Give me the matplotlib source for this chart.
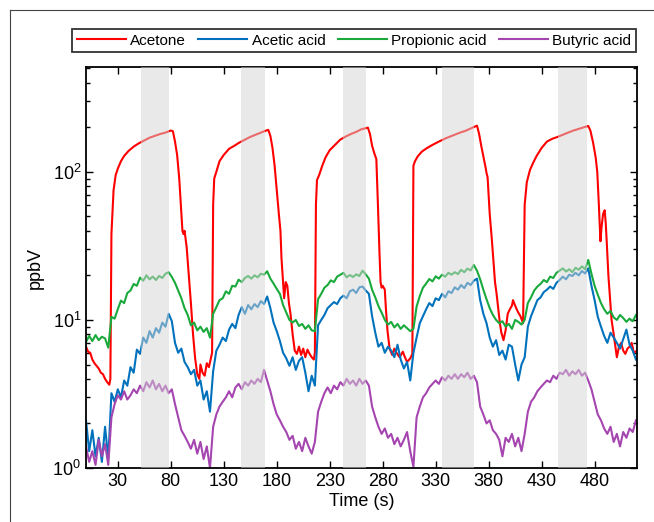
import numpy as np
import matplotlib
matplotlib.use("Agg")
import matplotlib.pyplot as plt
from matplotlib.lines import Line2D
from matplotlib.ticker import LogLocator, NullFormatter

plt.rcParams['font.family'] = 'Liberation Sans'
plt.rcParams['mathtext.fontset'] = 'custom'
plt.rcParams['mathtext.rm'] = 'Liberation Sans'
plt.rcParams['mathtext.it'] = 'Liberation Sans:italic'

# acetone: smooth, sharp steps -> own time axis (s)
acetone_t = [0, 2, 4, 6, 8, 10, 12, 14, 16, 18, 20, 22, 23, 24, 26, 28, 30, 33, 36, 40,
             45, 50, 55, 60, 65, 70, 75, 80, 82, 84, 86, 88, 89.5, 91, 92, 93, 95, 97, 99, 101,
             103, 105, 107, 108, 110, 112, 114, 116, 118, 119, 120, 121, 123, 126, 130, 135, 140, 145, 150, 155,
             160, 165, 170, 172, 174, 176, 178, 180, 182, 183.5, 184.5, 186, 187, 188.5, 190, 191.5, 193, 195, 197, 199,
             201, 203, 205, 207, 209, 211, 213, 215, 216, 217, 218, 220, 223, 226, 230, 235, 240, 245, 250, 255,
             260, 264, 266, 268, 270, 272, 274, 275.5, 277, 278, 279, 280, 282, 283, 284.5, 286.5, 289, 291, 293, 296,
             299, 301, 303, 306, 308, 309, 310.5, 313, 317, 322, 327, 333, 340, 347, 353, 358, 363, 368, 369, 371,
             373, 375, 377, 378, 379, 380, 381, 383, 384.5, 386, 387.5, 389, 390.6, 392, 394, 396, 398, 400, 402, 403,
             404, 406, 408, 410, 412.5, 414, 416, 419, 422, 425, 430, 435, 440, 445, 450, 455, 460, 466, 470, 474,
             476, 478.6, 481, 482.5, 484, 485.5, 486.5, 488, 489.5, 490.5, 491.5, 493, 494.5, 496, 498, 500, 501, 503, 505, 507,
             509, 511, 513, 515, 517, 520]
acetone = [6.6, 6.1, 6.0, 5.4, 5.1, 4.9, 4.7, 4.4, 4.3, 4.0, 3.8, 3.65, 4.0, 38, 75, 95, 105, 118, 128, 138,
           148, 156, 163, 170, 175, 180, 184, 190, 188, 160, 130, 90, 60, 40, 38, 40, 31, 20, 13, 8,
           5.5, 4.3, 4.0, 5.0, 4.4, 4.2, 5.1, 4.8, 5.6, 6.0, 60, 90, 100, 118, 130, 143, 150, 158, 165, 172,
           178, 184, 190, 192, 175, 145, 110, 75, 52, 40, 26, 18, 14, 18, 17, 13, 11, 8, 6.2, 5.9,
           6.6, 5.8, 6.4, 5.6, 6.3, 5.9, 5.6, 5.4, 6.0, 60, 88, 95, 110, 125, 140, 152, 165, 173, 180, 186,
           194, 197, 199, 180, 150, 134, 122, 60, 28, 18, 16.5, 17, 16, 12, 8.5, 6.4, 5.8, 6.4, 6.0, 5.6,
           6.1, 5.6, 5.2, 5.5, 5.9, 110, 118, 127, 137, 145, 152, 160, 169, 177, 184, 189, 196, 203, 205, 180,
           150, 127, 108, 98, 92, 70, 52, 35, 25, 18, 15, 12, 9.5, 8.2, 7.3, 8.5, 11, 11.8, 12.5, 13.6,
           13, 12, 11.2, 10.6, 9.5, 60, 85, 103, 115, 127, 145, 160, 167, 172, 178, 184, 190, 196, 200, 204,
           190, 157, 125, 100, 60, 34, 42, 52, 55, 45, 33, 20, 14, 10, 8, 6.3, 5.6, 6.6, 7.0, 6.2,
           5.9, 6.4, 6.6, 7.0, 6.0, 6.2]

# acids: one reading every 3 s from t = 0
acetic = [2.1, 1.3, 1.8, 1.2, 1.6, 1.1, 1.9, 1.15, 3.2, 2.8, 3.4, 3.0, 3.9, 3.6, 4.8, 4.4, 6.3, 5.9, 7.6, 7.0,
          8.4, 7.6, 8.8, 8.2, 9.6, 9.0, 11.0, 9.8, 7.0, 6.0, 6.4, 5.2, 4.8, 4.3, 4.6, 3.6, 3.9, 2.9, 3.3, 2.4,
          4.5, 6.2, 6.8, 7.6, 7.2, 8.6, 9.4, 8.8, 10.8, 12.2, 11.0, 12.6, 11.8, 12.8, 12.2, 13.4, 12.8, 14.4, 12.0, 9.6,
          8.4, 7.2, 6.0, 5.5, 4.9, 5.6, 4.6, 5.3, 5.6, 4.4, 3.3, 4.2, 3.6, 9.2, 10.0, 10.8, 12.0, 12.6, 13.2, 12.8,
          14.0, 14.6, 14.0, 15.6, 16.0, 15.2, 16.6, 16.8, 15.8, 15.0, 10.6, 8.2, 6.6, 7.0, 6.0, 6.6, 6.2, 5.6, 6.8, 5.4,
          4.7, 5.2, 3.9, 6.0, 7.6, 9.5, 10.6, 11.8, 13.0, 12.4, 14.0, 13.6, 15.0, 14.2, 15.6, 15.2, 16.6, 16.0, 17.2, 16.4,
          17.8, 17.2, 18.4, 19.0, 13.6, 11.0, 9.5, 7.6, 6.6, 7.3, 5.8, 6.2, 5.4, 6.8, 6.6, 5.0, 3.9, 5.0, 5.6, 9.0,
          10.6, 12.0, 13.6, 14.2, 15.4, 16.0, 16.8, 16.2, 17.8, 18.6, 19.6, 18.8, 20.2, 19.8, 20.8, 20.0, 21.4, 20.6, 22.3, 17.0,
          13.6, 10.5, 9.0, 7.8, 7.0, 8.2, 7.6, 7.0, 6.4, 7.4, 8.6, 6.8, 6.2, 5.4]
propionic = [7.1, 7.8, 7.2, 7.9, 7.3, 7.7, 7.5, 6.5, 10.5, 10.2, 11.8, 13.5, 13.0, 15.2, 15.8, 17.5, 17.0, 19.3, 18.4, 20.0,
             18.8, 19.6, 18.6, 19.8, 19.2, 20.5, 21.0, 19.5, 17.8, 15.8, 14.0, 12.0, 10.8, 9.2, 9.6, 8.5, 9.0, 8.3, 8.8, 7.6,
             11.0, 12.2, 13.6, 14.0, 15.6, 15.0, 17.0, 16.8, 18.7, 18.0, 19.2, 19.8, 19.0, 20.0, 19.4, 20.5, 20.2, 21.3, 19.0, 17.6,
             16.2, 15.0, 12.6, 11.2, 10.0, 9.6, 10.0, 9.1, 9.4, 8.7, 9.2, 8.5, 8.4, 13.8, 15.0, 16.5, 17.2, 18.5, 18.0, 19.6,
             20.2, 20.8, 19.4, 20.1, 19.5, 20.3, 19.8, 21.5, 20.3, 19.0, 16.0, 14.2, 12.4, 11.2, 10.0, 9.3, 9.7, 8.9, 9.4, 8.7,
             9.2, 8.8, 8.4, 8.7, 12.3, 14.5, 16.5, 17.6, 18.9, 18.2, 19.7, 19.0, 20.2, 19.6, 20.8, 20.2, 21.0, 20.4, 21.8, 21.0,
             22.2, 21.6, 23.5, 21.5, 18.8, 16.0, 13.8, 12.0, 10.8, 10.0, 9.5, 9.8, 9.0, 9.4, 8.7, 10.0, 9.7, 9.3, 10.0, 13.0,
             14.2, 15.8, 16.8, 17.5, 18.6, 18.0, 19.6, 19.2, 20.8, 21.5, 22.3, 21.2, 22.0, 21.0, 22.5, 21.8, 23.0, 22.0, 25.4, 20.5,
             17.0, 14.8, 13.0, 11.8, 11.0, 11.5, 10.4, 10.0, 10.8, 10.3, 9.7, 10.2, 9.8, 10.8]
butyric = [1.4, 1.1, 1.3, 1.05, 1.55, 1.2, 1.45, 1.05, 2.2, 2.7, 3.1, 2.9, 3.3, 2.9, 3.1, 3.4, 3.2, 3.6, 3.3, 3.8,
           3.5, 3.9, 3.4, 3.7, 3.3, 3.6, 3.2, 3.4, 2.7, 2.2, 1.8, 1.65, 1.5, 1.35, 1.55, 1.25, 1.5, 1.15, 1.4, 1.0,
           1.9, 2.3, 2.6, 2.8, 3.0, 3.3, 3.0, 3.5, 3.7, 3.4, 3.8, 3.6, 3.9, 3.7, 4.0, 3.8, 4.6, 3.9, 3.3, 2.7,
           2.3, 2.1, 1.9, 1.75, 1.55, 1.65, 1.35, 1.5, 1.3, 1.6, 1.4, 1.25, 1.5, 2.4, 2.8, 3.2, 3.5, 3.2, 3.6, 3.4,
           3.8, 3.6, 4.0, 3.7, 3.9, 3.6, 4.0, 3.7, 3.9, 3.6, 2.6, 2.2, 1.9, 1.7, 1.85, 1.6, 1.7, 1.45, 1.6, 1.4,
           1.55, 1.75, 1.3, 1.02, 2.2, 2.6, 3.0, 3.2, 3.5, 3.7, 3.9, 3.7, 4.1, 3.9, 4.2, 4.0, 4.3, 4.0, 4.3, 4.1,
           4.4, 4.0, 4.2, 3.8, 2.6, 2.3, 2.0, 2.1, 1.8, 1.7, 1.55, 1.2, 1.6, 1.5, 1.7, 1.4, 1.6, 1.3, 1.7, 2.4,
           2.8, 3.0, 3.3, 3.5, 3.7, 3.9, 3.8, 4.2, 4.0, 4.4, 4.3, 4.6, 4.2, 4.5, 4.3, 4.6, 4.2, 4.4, 3.9, 3.4,
           2.8, 2.3, 2.1, 1.85, 1.7, 1.9, 1.5, 1.7, 1.4, 1.75, 1.6, 1.85, 1.75, 2.1]

# shaded sampling windows (start, end) in s
bands = [(52, 78), (146, 169), (243, 264), (336, 366), (445, 473)]

xticks = [30, 80, 130, 180, 230, 280, 330, 380, 430, 480]

colors = {'Acetone': '#ff0000', 'Acetic acid': '#0072bd',
          'Propionic acid': '#1aaa3c', 'Butyric acid': '#a545b0'}

fig = plt.figure(figsize=(6.54, 5.22), dpi=100)
ax = fig.add_axes([0.1315, 0.1034, 0.8425, 0.7682])

ax.plot(acetone_t, acetone, color=colors['Acetone'], lw=1.5, label='Acetone')
series = [('Acetic acid', acetic), ('Propionic acid', propionic), ('Butyric acid', butyric)]
for name, vals in series:
    t = 3 * np.arange(len(vals))
    ax.plot(t, vals, color=colors[name], lw=1.5, label=name)

for a, b in bands:
    ax.axvspan(a, b, facecolor='#d4d4d4', alpha=0.5, lw=0, zorder=3)

ax.set_yscale('log')
ax.set_xlim(0, 520)
ax.set_ylim(1, 510)
ax.set_xticks(xticks)
ax.yaxis.set_major_locator(LogLocator(base=10, numticks=10))
ax.yaxis.set_minor_locator(LogLocator(base=10, subs=np.arange(2, 10), numticks=20))
ax.yaxis.set_minor_formatter(NullFormatter())
ax.tick_params(which='both', direction='in', top=True, right=True, labelsize=13, width=1)
ax.tick_params(which='major', length=5)
ax.tick_params(which='minor', length=3)
for s in ax.spines.values():
    s.set_linewidth(1.3)

ax.set_xlabel('Time (s)', fontsize=13, labelpad=2)
ax.set_ylabel('ppbV', fontsize=13, labelpad=6)

leg = fig.legend(loc='center', bbox_to_anchor=(0.5415, 0.922), ncol=4, fontsize=11,
                 frameon=True, fancybox=False, edgecolor='black', handlelength=3.2,
                 handletextpad=0.3, columnspacing=0.8, borderpad=0.3)
leg.get_frame().set_linewidth(1.3)

# outer frame of the panel
fig.add_artist(Line2D([0.0153, 0.0153], [0, 0.981], transform=fig.transFigure, color='#444444', lw=0.8))
fig.add_artist(Line2D([0.0153, 1], [0.981, 0.981], transform=fig.transFigure, color='#444444', lw=0.8))

fig.savefig('out.png', dpi=100)
